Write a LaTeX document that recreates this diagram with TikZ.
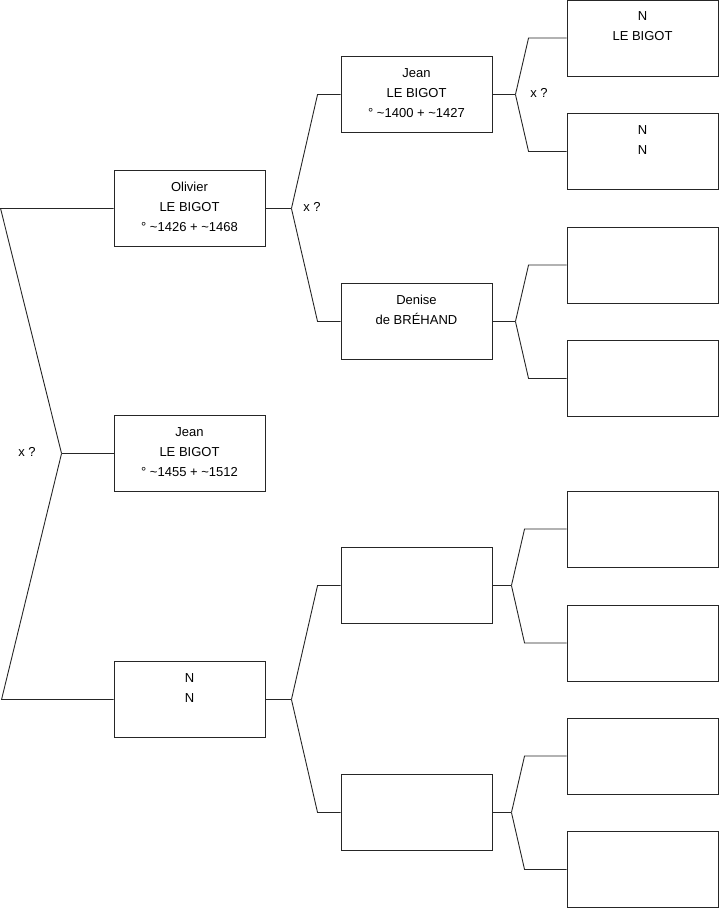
\documentclass[tikz,border=0pt]{standalone}
\usepackage{fontspec}
\setmainfont{Liberation Sans}
\newcommand\bx[1]{\parbox[c][76pt][t]{151pt}{\fontsize{13}{20}\selectfont\centering\vspace*{6.6pt}\strut#1}}
\begin{document}
\begin{tikzpicture}[x=1pt,y=-1pt,line width=0.9pt,
  box/.style={draw=black!85,rectangle,inner sep=0pt,minimum width=151pt,minimum height=76pt},
  conn/.style={draw=black!85,line join=miter},
  lbl/.style={inner sep=0pt,font=\fontsize{13}{20}\selectfont}]
\useasboundingbox (0,0) rectangle (719,908);
% generation 1
\node[box] (p) at (189.5,453.5) {\bx{Jean\\LE BIGOT\\° \textasciitilde1455 + \textasciitilde1512}};
% generation 2
\node[box] (s1) at (189.5,208.5) {\bx{Olivier\\LE BIGOT\\° \textasciitilde1426 + \textasciitilde1468}};
\node[box] (s2) at (189.5,699.5) {\bx{N\\N}};
% generation 3
\node[box] (t1) at (416.5,94.5) {\bx{Jean\\LE BIGOT\\° \textasciitilde1400 + \textasciitilde1427}};
\node[box] (t2) at (416.5,321.5) {\bx{Denise\\de BRÉHAND}};
\node[box] (t3) at (416.5,585.5) {\bx{}};
\node[box] (t4) at (416.5,812.5) {\bx{}};
% generation 4
\node[box] (g1) at (642.5,38) {\bx{N\\LE BIGOT}};
\node[box] (g2) at (642.5,151.5) {\bx{N\\N}};
\node[box] (g3) at (642.5,265) {\bx{}};
\node[box] (g4) at (642.5,378.5) {\bx{}};
\node[box] (g5) at (642.5,529) {\bx{}};
\node[box] (g6) at (642.5,643) {\bx{}};
\node[box] (g7) at (642.5,756) {\bx{}};
\node[box] (g8) at (642.5,869.5) {\bx{}};
% labels
\node[lbl] (x1) at (27,452) {x ?};
\node[lbl] (x2) at (312,207) {x ?};
\node[lbl] (x3) at (539,93) {x ?};
% connectors gen1 -> gen2
\draw[conn] (p.west) -- ++(-52,0) coordinate (jp);
\draw[conn] (jp) -- ([xshift=-113pt]s1.west) -- (s1.west);
\draw[conn] (jp) -- ([xshift=-112pt]s2.west) -- (s2.west);
% gen2 -> gen3
\draw[conn] (s1.east) -- ++(26,0) coordinate (js1);
\draw[conn] (js1) -- ([xshift=-23pt]t1.west) -- (t1.west);
\draw[conn] (js1) -- ([xshift=-23pt]t2.west) -- (t2.west);
\draw[conn] (s2.east) -- ++(26,0) coordinate (js2);
\draw[conn] (js2) -- ([xshift=-23pt]t3.west) -- (t3.west);
\draw[conn] (js2) -- ([xshift=-23pt]t4.west) -- (t4.west);
% gen3 -> gen4
\draw[conn] (t1.east) -- ++(23,0) coordinate (jt1);
\draw[conn] (jt1) -- ([xshift=-38pt]g1.west) -- (g1.west);
\draw[conn] (jt1) -- ([xshift=-38pt]g2.west) -- (g2.west);
\draw[conn] (t2.east) -- ++(23,0) coordinate (jt2);
\draw[conn] (jt2) -- ([xshift=-38pt]g3.west) -- (g3.west);
\draw[conn] (jt2) -- ([xshift=-38pt]g4.west) -- (g4.west);
\draw[conn] (t3.east) -- ++(19,0) coordinate (jt3);
\draw[conn] (jt3) -- ([xshift=-42pt]g5.west) -- (g5.west);
\draw[conn] (jt3) -- ([xshift=-42pt]g6.west) -- (g6.west);
\draw[conn] (t4.east) -- ++(19,0) coordinate (jt4);
\draw[conn] (jt4) -- ([xshift=-42pt]g7.west) -- (g7.west);
\draw[conn] (jt4) -- ([xshift=-42pt]g8.west) -- (g8.west);
\end{tikzpicture}
\end{document}
